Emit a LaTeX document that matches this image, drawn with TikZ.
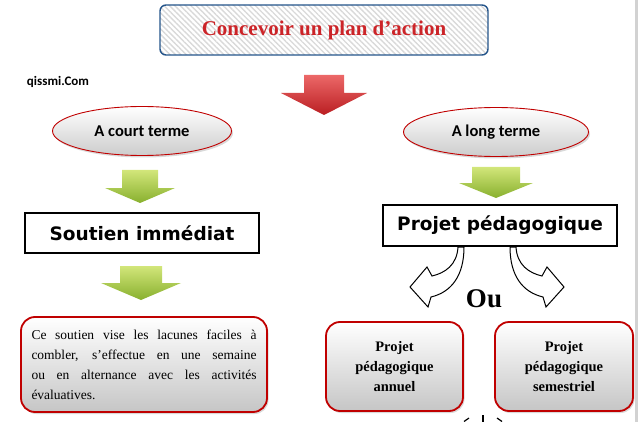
\documentclass[tikz,border=0pt]{standalone}
\usepackage{fontspec}
\setmainfont{Liberation Serif}
\newfontfamily\calibfont{Carlito}
\newfontfamily\verdfont{DejaVu Sans}
\usepackage{xcolor}
\usetikzlibrary{shapes.geometric,shadows,patterns.meta}
\definecolor{planblue}{RGB}{36,84,138}
\definecolor{planred}{RGB}{204,36,40}
\definecolor{boxred}{RGB}{192,0,0}
\definecolor{arrowredtop}{RGB}{236,104,104}
\definecolor{arrowredbottom}{RGB}{186,30,34}
\definecolor{arrowgreentop}{RGB}{210,230,122}
\definecolor{arrowgreenbottom}{RGB}{136,176,46}

\begin{document}
\begin{tikzpicture}[x=1pt,y=-1pt,
    titlebox/.style={draw=planblue,line width=1.4pt,rounded corners=6pt,pattern={Lines[angle=-45,distance=3.8pt,line width=1.4pt]},pattern color=gray!30,minimum width=328pt,minimum height=50pt,text=planred,font=\bfseries\fontsize{21}{24}\selectfont},
    termellipse/.style={ellipse,draw=boxred,line width=0.9pt,top color=white,bottom color=gray!40,inner sep=0pt,minimum height=49pt,font=\calibfont\bfseries\fontsize{16.5}{18}\selectfont,drop shadow={shadow xshift=1.5pt,shadow yshift=-2pt,opacity=0.3}},
    sansbox/.style={draw=black,line width=1.3pt,fill=white,minimum width=234pt,font=\verdfont\bfseries\fontsize{18.5}{20}\selectfont},
    redbox/.style={draw=boxred,line width=1.8pt,rounded corners=14pt,top color=white,bottom color=gray!45,drop shadow={shadow xshift=1.5pt,shadow yshift=-2pt,opacity=0.3}},
    redblock/.style={top color=arrowredtop,bottom color=arrowredbottom},
    greenblock/.style={top color=arrowgreentop,bottom color=arrowgreenbottom},
    curveblock/.style={draw=black,line width=1pt,fill=white,line join=miter}]
  \newcommand{\planleftx}{142}
  \newcommand{\planrightx}{496}
  \newcommand{\planmirrorx}{487}
  \newcommand{\blockdown}[7]{\shade[#7] (#1-#5,#2) -- (#1+#5,#2) -- (#1+#5,#3) -- (#1+#6,#3) -- (#1,#4) -- (#1-#6,#3) -- (#1-#5,#3) -- cycle;}
  \newcommand{\curvedblock}{\filldraw[curveblock] (-29,247) .. controls (-30,265) and (-42,273) .. (-55,276) -- (-60,267) -- (-77,287) -- (-59,307) -- (-56,297) .. controls (-35,292) and (-23,275) .. (-23,247) -- cycle;}
  \useasboundingbox (0,0) rectangle (639,422);
  \draw[gray!35,line width=2.5pt] (636.5,0) -- (636.5,422);
  \node[titlebox] (plan) at (324,30) {Concevoir un plan d’action};
  \node[font=\calibfont\bfseries\fontsize{13}{15}\selectfont] (site) at (58,82) {qissmi.Com};
  \blockdown{324}{75}{93}{115}{20}{43}{redblock}
  \node[termellipse,minimum width=179pt] (court) at (\planleftx,131) {A court terme};
  \node[termellipse,minimum width=185pt] (long) at (\planrightx,132) {A long terme};
  \blockdown{\planleftx-2}{170}{188}{203}{18}{35}{greenblock}
  \blockdown{\planrightx}{167}{183}{198}{24}{37}{greenblock}
  \node[sansbox,minimum height=40pt] (soutien) at (\planleftx,233) {Soutien immédiat};
  \node[sansbox,minimum height=41pt] (projet) at (500,225.5) {Projet pédagogique};
  \blockdown{\planleftx-1}{266}{283}{300}{21}{40}{greenblock}
  \node[redbox,minimum width=246pt,minimum height=95pt,text width=225pt,align=justify,font=\fontsize{13.5}{20}\selectfont] (lacunes) at (144,364.5) {Ce soutien vise les lacunes faciles à\linebreak combler, s’effectue en une semaine\linebreak ou en alternance avec les activités\linebreak évaluatives.};
  \begin{scope}[shift={(\planmirrorx,0)}]
    \curvedblock
  \end{scope}
  \begin{scope}[shift={(\planmirrorx,0)},xscale=-1]
    \curvedblock
  \end{scope}
  \node[font=\bfseries\fontsize{27}{30}\selectfont] (ou) at (484,299) {Ou};
  \node[redbox,minimum width=137pt,minimum height=89pt,align=center,font=\bfseries\fontsize{14.5}{20}\selectfont] (annuel) at (394.5,366.5) {Projet\\pédagogique\\annuel};
  \node[redbox,minimum width=138pt,minimum height=89pt,align=center,font=\bfseries\fontsize{14.5}{20}\selectfont] (semestriel) at (564,366.5) {Projet\\pédagogique\\semestriel};
  \draw[line width=1.2pt] (483,415) -- (483,422);
  \draw[line width=1.2pt] (464,421.5) -- (469,418);
  \draw[line width=1.2pt] (497,418) -- (502,421.5);
\end{tikzpicture}
\end{document}
